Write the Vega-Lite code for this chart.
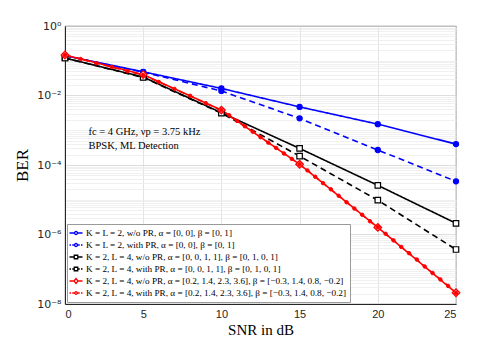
{
  "$schema": "https://vega.github.io/schema/vega-lite/v6.json",
  "width": 391,
  "height": 278,
  "autosize": {"type": "none"},
  "padding": {"left": 65, "top": 26, "right": 48, "bottom": 37},
  "background": "white",
  "config": {
    "view": {"stroke": "#262626", "strokeWidth": 0.8},
    "font": "Liberation Serif",
    "legend": {
      "orient": "bottom-left",
      "offset": 2,
      "padding": 3,
      "fillColor": "white",
      "strokeColor": "#9a9a9a",
      "labelFont": "Liberation Serif",
      "labelFontSize": 9.2,
      "labelColor": "black",
      "symbolSize": 100,
      "symbolStrokeWidth": 1.3,
      "rowPadding": -1,
      "labelOffset": 4,
      "labelLimit": 400
    }
  },
  "datasets": {
    "ber": [
      {"s": "B1", "snr": 0, "ber": 0.14}, {"s": "B1", "snr": 5, "ber": 0.048}, {"s": "B1", "snr": 10, "ber": 0.016}, {"s": "B1", "snr": 15, "ber": 0.0047}, {"s": "B1", "snr": 20, "ber": 0.0015}, {"s": "B1", "snr": 25, "ber": 0.0004},
      {"s": "B2", "snr": 0, "ber": 0.14}, {"s": "B2", "snr": 5, "ber": 0.047}, {"s": "B2", "snr": 10, "ber": 0.0135}, {"s": "B2", "snr": 15, "ber": 0.0022}, {"s": "B2", "snr": 20, "ber": 0.00027}, {"s": "B2", "snr": 25, "ber": 0.000034},
      {"s": "K1", "snr": 0, "ber": 0.12}, {"s": "K1", "snr": 5, "ber": 0.034}, {"s": "K1", "snr": 10, "ber": 0.0032}, {"s": "K1", "snr": 15, "ber": 0.0003}, {"s": "K1", "snr": 20, "ber": 0.000026}, {"s": "K1", "snr": 25, "ber": 0.0000021},
      {"s": "K2", "snr": 0, "ber": 0.12}, {"s": "K2", "snr": 5, "ber": 0.033}, {"s": "K2", "snr": 10, "ber": 0.0031}, {"s": "K2", "snr": 15, "ber": 0.00018}, {"s": "K2", "snr": 20, "ber": 0.0000097}, {"s": "K2", "snr": 25, "ber": 0.00000037},
      {"s": "R1", "snr": 0, "ber": 0.146}, {"s": "R1", "snr": 5, "ber": 0.04}, {"s": "R1", "snr": 10, "ber": 0.0038}, {"s": "R1", "snr": 15, "ber": 0.000105}, {"s": "R1", "snr": 20, "ber": 0.0000016}, {"s": "R1", "snr": 25, "ber": 0.000000021},
      {"s": "R2", "snr": 0, "ber": 0.145}, {"s": "R2", "snr": 1, "ber": 0.112}, {"s": "R2", "snr": 2, "ber": 0.085}, {"s": "R2", "snr": 3, "ber": 0.066}, {"s": "R2", "snr": 4, "ber": 0.05}, {"s": "R2", "snr": 5, "ber": 0.039},
      {"s": "R2", "snr": 6, "ber": 0.0245}, {"s": "R2", "snr": 7, "ber": 0.0155}, {"s": "R2", "snr": 8, "ber": 0.0098}, {"s": "R2", "snr": 9, "ber": 0.006}, {"s": "R2", "snr": 10, "ber": 0.0038},
      {"s": "R2", "snr": 10.5, "ber": 0.0027}, {"s": "R2", "snr": 11, "ber": 0.00186}, {"s": "R2", "snr": 11.5, "ber": 0.0013}, {"s": "R2", "snr": 12, "ber": 0.00091}, {"s": "R2", "snr": 12.5, "ber": 0.00063}, {"s": "R2", "snr": 13, "ber": 0.00044}, {"s": "R2", "snr": 13.5, "ber": 0.00031}, {"s": "R2", "snr": 14, "ber": 0.000214}, {"s": "R2", "snr": 14.5, "ber": 0.00015}, {"s": "R2", "snr": 15, "ber": 0.000105},
      {"s": "R2", "snr": 15.5, "ber": 0.00007}, {"s": "R2", "snr": 16, "ber": 0.000046}, {"s": "R2", "snr": 16.5, "ber": 0.00003}, {"s": "R2", "snr": 17, "ber": 0.00002}, {"s": "R2", "snr": 17.5, "ber": 0.000013}, {"s": "R2", "snr": 18, "ber": 0.0000085}, {"s": "R2", "snr": 18.5, "ber": 0.0000056}, {"s": "R2", "snr": 19, "ber": 0.0000037}, {"s": "R2", "snr": 19.5, "ber": 0.0000024}, {"s": "R2", "snr": 20, "ber": 0.00000162},
      {"s": "R2", "snr": 20.5, "ber": 0.00000105}, {"s": "R2", "snr": 21, "ber": 0.00000068}, {"s": "R2", "snr": 21.5, "ber": 0.00000044}, {"s": "R2", "snr": 22, "ber": 0.00000029}, {"s": "R2", "snr": 22.5, "ber": 0.00000019}, {"s": "R2", "snr": 23, "ber": 0.00000012}, {"s": "R2", "snr": 23.5, "ber": 0.000000078}, {"s": "R2", "snr": 24, "ber": 0.000000051}, {"s": "R2", "snr": 24.5, "ber": 0.000000033}, {"s": "R2", "snr": 25, "ber": 0.000000021}
    ],
    "notes": [
      {"snr": 1.5, "ber": 0.00088, "t": "fc = 4 GHz, νp = 3.75 kHz"},
      {"snr": 1.5, "ber": 0.00036, "t": "BPSK, ML Detection"}
    ],
    "keyrows": [
      {"lg": "B1"}, {"lg": "B2"}, {"lg": "K1"}, {"lg": "K2"}, {"lg": "R1"}, {"lg": "R2"}
    ]
  },
  "layer": [
    {
      "data": {"name": "ber"},
      "mark": {"type": "line", "strokeWidth": 1.6},
      "encoding": {
        "x": {
          "field": "snr", "type": "quantitative",
          "scale": {"domain": [0, 25], "nice": false},
          "axis": {
            "values": [0, 5, 10, 15, 20, 25],
            "title": "SNR in dB",
            "grid": true, "gridColor": "#dcdcdc", "gridWidth": 0.8,
            "ticks": false,
            "domainColor": "#262626",
            "labelFont": "Liberation Sans", "labelFontSize": 11, "labelColor": "#262626",
            "labelPadding": 4,
            "titleFont": "Liberation Serif", "titleFontSize": 15, "titleFontWeight": "normal", "titleColor": "black",
            "titlePadding": 3
          }
        },
        "y": {
          "field": "ber", "type": "quantitative",
          "scale": {"type": "log", "domain": [0.00000001, 1], "nice": false},
          "axis": {
            "values": [0.00000001, 0.00000002, 0.00000003, 0.00000004, 0.00000005, 0.00000006, 0.00000007, 0.00000008, 0.00000009,
                       0.0000001, 0.0000002, 0.0000003, 0.0000004, 0.0000005, 0.0000006, 0.0000007, 0.0000008, 0.0000009,
                       0.000001, 0.000002, 0.000003, 0.000004, 0.000005, 0.000006, 0.000007, 0.000008, 0.000009,
                       0.00001, 0.00002, 0.00003, 0.00004, 0.00005, 0.00006, 0.00007, 0.00008, 0.00009,
                       0.0001, 0.0002, 0.0003, 0.0004, 0.0005, 0.0006, 0.0007, 0.0008, 0.0009,
                       0.001, 0.002, 0.003, 0.004, 0.005, 0.006, 0.007, 0.008, 0.009,
                       0.01, 0.02, 0.03, 0.04, 0.05, 0.06, 0.07, 0.08, 0.09,
                       0.1, 0.2, 0.3, 0.4, 0.5, 0.6, 0.7, 0.8, 0.9, 1],
            "labelExpr": "datum.value == 1 ? '10⁰' : datum.value == 0.01 ? '10⁻²' : datum.value == 0.0001 ? '10⁻⁴' : datum.value == 0.000001 ? '10⁻⁶' : datum.value == 0.00000001 ? '10⁻⁸' : ''",
            "labelOverlap": false,
            "title": "BER",
            "grid": true,
            "gridColor": {"condition": {"test": "datum.value == 1 || datum.value == 0.01 || datum.value == 0.0001 || datum.value == 0.000001 || datum.value == 0.00000001", "value": "#d4d4d4"}, "value": "#ececec"},
            "gridWidth": 0.8,
            "ticks": false,
            "domainColor": "#262626",
            "labelFont": "DejaVu Sans", "labelFontSize": 11, "labelColor": "#262626",
            "labelPadding": 4,
            "titleFont": "Liberation Serif", "titleFontSize": 17, "titleFontWeight": "normal", "titleColor": "black",
            "titlePadding": 5
          }
        },
        "detail": {"field": "s", "type": "nominal"},
        "color": {
          "field": "s", "type": "nominal",
          "scale": {"range": ["#0000ff", "#0000ff", "#000000", "#000000", "#ff0000", "#ff0000"]},
          "legend": null
        },
        "strokeDash": {
          "field": "s", "type": "nominal",
          "scale": {"range": [[1, 0], [6, 4], [1, 0], [6, 4], [1, 0], [6, 4]]},
          "legend": null
        }
      }
    },
    {
      "data": {"name": "ber"},
      "transform": [{"filter": {"field": "s", "oneOf": ["B1", "B2"]}}],
      "mark": {"type": "point", "shape": "circle", "size": 26, "strokeWidth": 1.2, "opacity": 1, "filled": false, "fill": "#0000ff"},
      "encoding": {
        "x": {"field": "snr", "type": "quantitative"},
        "y": {"field": "ber", "type": "quantitative"},
        "color": {"field": "s", "type": "nominal", "legend": null}
      }
    },
    {
      "data": {"name": "ber"},
      "transform": [{"filter": {"field": "s", "oneOf": ["K1", "K2"]}}],
      "mark": {"type": "point", "shape": "square", "size": 30, "strokeWidth": 1.2, "opacity": 1, "filled": false, "fill": "#ffffff"},
      "encoding": {
        "x": {"field": "snr", "type": "quantitative"},
        "y": {"field": "ber", "type": "quantitative"},
        "color": {"field": "s", "type": "nominal", "legend": null}
      }
    },
    {
      "data": {"name": "ber"},
      "transform": [{"filter": {"field": "s", "oneOf": ["R1"]}}],
      "mark": {"type": "point", "shape": "diamond", "size": 55, "strokeWidth": 1.4, "opacity": 1, "filled": false, "fill": "#ffffff"},
      "encoding": {
        "x": {"field": "snr", "type": "quantitative"},
        "y": {"field": "ber", "type": "quantitative"},
        "color": {"field": "s", "type": "nominal", "legend": null}
      }
    },
    {
      "data": {"name": "ber"},
      "transform": [{"filter": {"field": "s", "oneOf": ["R2"]}}],
      "mark": {"type": "point", "shape": "circle", "size": 12, "strokeWidth": 1, "opacity": 1, "filled": false, "fill": "#ff0000"},
      "encoding": {
        "x": {"field": "snr", "type": "quantitative"},
        "y": {"field": "ber", "type": "quantitative"},
        "color": {"field": "s", "type": "nominal", "legend": null}
      }
    },
    {
      "data": {"name": "notes"},
      "mark": {"type": "text", "align": "left", "baseline": "middle", "font": "Liberation Serif", "fontSize": 10.5, "color": "black"},
      "encoding": {
        "x": {"field": "snr", "type": "quantitative"},
        "y": {"field": "ber", "type": "quantitative"},
        "text": {"field": "t", "type": "nominal"}
      }
    },
    {
      "data": {"name": "keyrows"},
      "mark": {"type": "point", "strokeWidth": 1.3, "opacity": 0},
      "encoding": {
        "shape": {
          "field": "lg", "type": "nominal",
          "scale": {
            "domain": ["B1", "B2", "K1", "K2", "R1", "R2"],
            "range": [
              "M-1.3,0H-0.3M0.3,0H1.3M0.3,0A0.3,0.3 0 1,1 -0.3,0A0.3,0.3 0 1,1 0.3,0Z",
              "M-1.3,0H-1M-0.75,0H-0.3M0.3,0H0.75M1,0H1.3M0.3,0A0.3,0.3 0 1,1 -0.3,0A0.3,0.3 0 1,1 0.3,0Z",
              "M-1.3,0H-0.35M0.35,0H1.3M-0.35,-0.35H0.35V0.35H-0.35Z",
              "M-1.3,0H-1M-0.75,0H-0.35M0.35,0H0.75M1,0H1.3M-0.35,-0.35H0.35V0.35H-0.35Z",
              "M-1.3,0H-0.4M0.4,0H1.3M0,-0.5L0.4,0L0,0.5L-0.4,0Z",
              "M-1.3,0H-1M-0.75,0H-0.25M0.25,0H0.75M1,0H1.3M0.25,0A0.25,0.25 0 1,1 -0.25,0A0.25,0.25 0 1,1 0.25,0Z"
            ]
          },
          "legend": {
            "title": null,
            "symbolSize": 100,
            "encode": {"symbols": {"update": {"opacity": {"value": 1}}}},
            "labelExpr": "datum.label == 'B1' ? 'K = L = 2, w/o PR, α = [0, 0], β = [0, 1]' : datum.label == 'B2' ? 'K = L = 2, with PR, α = [0, 0], β = [0, 1]' : datum.label == 'K1' ? 'K = 2, L = 4, w/o PR, α = [0, 0, 1, 1], β = [0, 1, 0, 1]' : datum.label == 'K2' ? 'K = 2, L = 4, with PR, α = [0, 0, 1, 1], β = [0, 1, 0, 1]' : datum.label == 'R1' ? 'K = 2, L = 4, w/o PR, α = [0.2, 1.4, 2.3, 3.6], β = [−0.3, 1.4, 0.8, −0.2]' : 'K = 2, L = 4, with PR, α = [0.2, 1.4, 2.3, 3.6], β = [−0.3, 1.4, 0.8, −0.2]'"
          }
        },
        "stroke": {
          "field": "lg", "type": "nominal",
          "scale": {"domain": ["B1", "B2", "K1", "K2", "R1", "R2"], "range": ["#0000ff", "#0000ff", "#000000", "#000000", "#ff0000", "#ff0000"]},
          "legend": {"title": null}
        },
        "fill": {
          "field": "lg", "type": "nominal",
          "scale": {"domain": ["B1", "B2", "K1", "K2", "R1", "R2"], "range": ["#0000ff", "#0000ff", "#ffffff", "#ffffff", "#ffffff", "#ff0000"]},
          "legend": {"title": null}
        }
      }
    }
  ]
}
